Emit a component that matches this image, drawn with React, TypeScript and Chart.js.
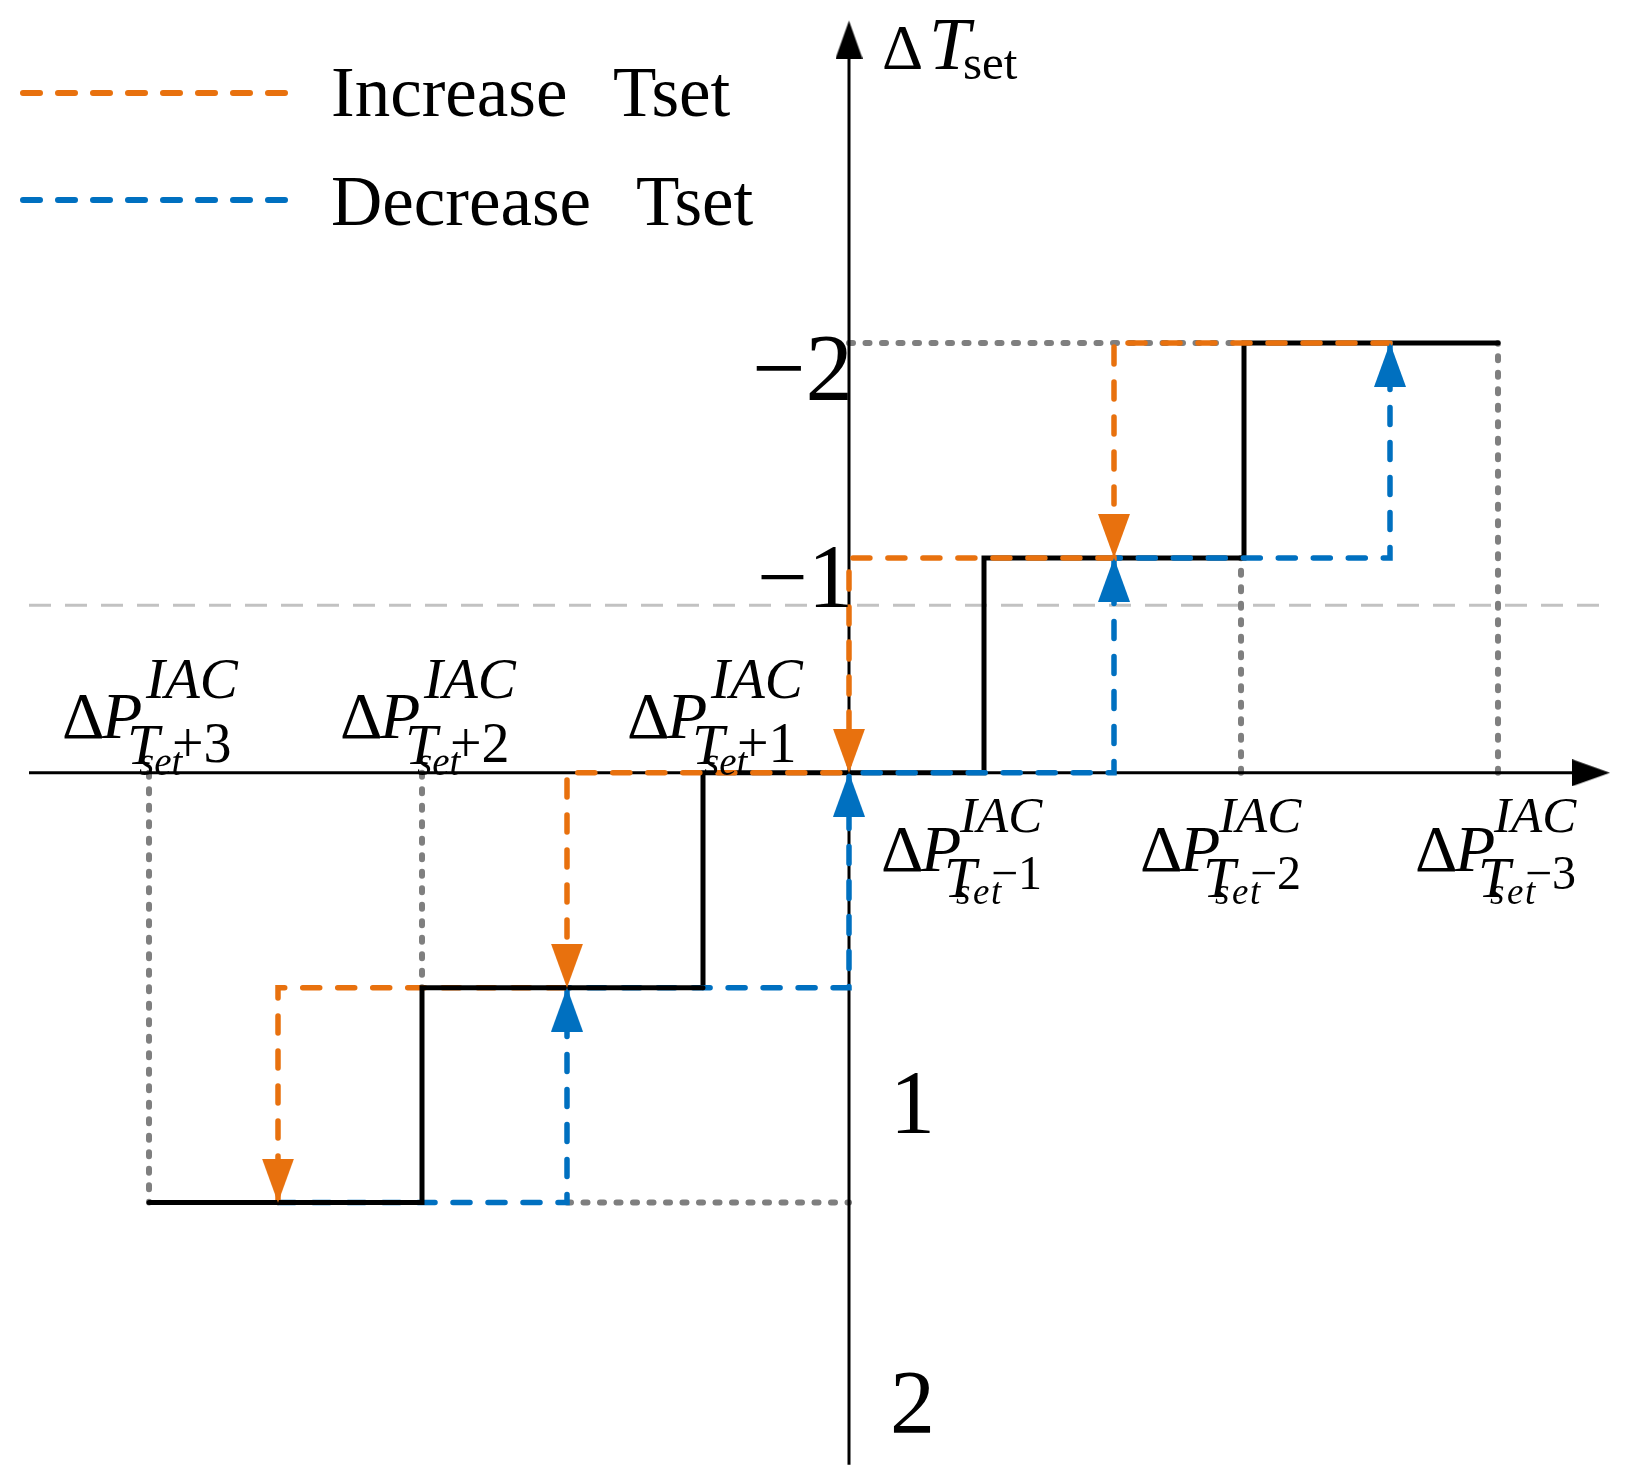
import React, { useEffect, useRef } from "react";
import { Chart, registerables } from "chart.js";

Chart.register(...registerables);

const W = 1629;
const H = 1482;

// ---- data (ΔP^IAC thresholds in arbitrary power units, ΔTset steps) ----
const stepLeft = [
  { x: -7.0, y: 2 }, { x: -4.27, y: 2 }, { x: -4.27, y: 1 }, { x: -1.46, y: 1 },
];
const stepRight = [
  { x: -1.46, y: 1 }, { x: -1.46, y: 0 }, { x: 1.35, y: 0 }, { x: 1.35, y: -1 },
  { x: 3.95, y: -1 }, { x: 3.95, y: -2 }, { x: 6.49, y: -2 },
];
const increasePath = [
  { x: 5.41, y: -2 }, { x: 2.65, y: -2 }, { x: 2.65, y: -1 }, { x: 0, y: -1 },
  { x: 0, y: 0 }, { x: -2.82, y: 0 }, { x: -2.82, y: 1 }, { x: -5.71, y: 1 }, { x: -5.71, y: 2 },
];
const decreasePath = [
  { x: -5.71, y: 2 }, { x: -2.82, y: 2 }, { x: -2.82, y: 1 }, { x: 0, y: 1 },
  { x: 0, y: 0 }, { x: 2.65, y: 0 }, { x: 2.65, y: -1 }, { x: 5.41, y: -1 }, { x: 5.41, y: -2 },
];
const increaseArrows = [{ x: 2.65, y: -1 }, { x: 0, y: 0 }, { x: -2.82, y: 1 }, { x: -5.71, y: 2 }];
const decreaseArrows = [{ x: -2.82, y: 1 }, { x: 0, y: 0 }, { x: 2.65, y: -1 }, { x: 5.41, y: -2 }];
const guideSegments = [
  [{ x: -7.0, y: 0 }, { x: -7.0, y: 2 }],
  [{ x: -4.27, y: 0 }, { x: -4.27, y: 1 }],
  [{ x: 3.92, y: 0 }, { x: 3.92, y: -1 }],
  [{ x: 6.49, y: 0 }, { x: 6.49, y: -2 }],
  [{ x: 0, y: -2 }, { x: 3.95, y: -2 }],
  [{ x: -2.82, y: 2 }, { x: 0, y: 2 }],
];
const thresholdLevel = -0.78;
const xAxisRange = [-8.2, 7.23, 7.61]; // start, arrow base, arrow tip
const yAxisRange = [3.22, -3.33, -3.5]; // bottom, arrow base, arrow tip

const leftLabels = ["+3", "+2", "+1"];
const rightLabels = ["\u22121", "\u22122", "\u22123"];
const tickTexts = ["\u22122", "\u22121", "1", "2"];
const legendTexts = ["Increase  Tset", "Decrease  Tset"];

// ---- layout / styles ----
const ORANGE = "#E8710E";
const BLUE = "#0070C0";
const GRAY = "#7F7F7F";
const LIGHT = "#C2C2C2";
const FONT = '"Liberation Serif", "Times New Roman", serif';

const leftLabelAnchors = [-7.87, -5.09, -2.22];
const leftLabelBase = -0.162;
const rightLabelAnchors = [0.32, 2.91, 5.66];
const rightLabelBase = 0.457;

function makeArrow(w: number, l: number, color: string) {
  const c = document.createElement("canvas");
  c.width = w;
  c.height = 2 * l;
  const g = c.getContext("2d")!;
  g.fillStyle = color;
  g.beginPath();
  g.moveTo(0, 0);
  g.lineTo(w, 0);
  g.lineTo(w / 2, l);
  g.closePath();
  g.fill();
  return c;
}

type Run = { t: string; dx: number; dy: number; size: number; it: boolean };

function drawRuns(ctx: CanvasRenderingContext2D, x0: number, y0: number, runs: Run[]) {
  for (const r of runs) {
    ctx.font = `${r.it ? "italic " : ""}${r.size}px ${FONT}`;
    ctx.fillText(r.t, x0 + r.dx, y0 + r.dy);
  }
}

const textPlugin = {
  id: "texts",
  afterDatasetsDraw(chart: any) {
    const ctx: CanvasRenderingContext2D = chart.ctx;
    const xs = chart.scales.x;
    const ys = chart.scales.y;
    ctx.save();
    ctx.fillStyle = "#000";
    ctx.textAlign = "left";
    ctx.textBaseline = "alphabetic";

    // legend
    const legendColors = [ORANGE, BLUE];
    const legendY = [93, 200];
    const legendBase = [116, 225];
    const secondWordX = [613, 636];
    for (let i = 0; i < 2; i++) {
      ctx.save();
      ctx.strokeStyle = legendColors[i];
      ctx.lineWidth = 6;
      ctx.lineCap = "round";
      ctx.setLineDash([17, 18]);
      ctx.beginPath();
      ctx.moveTo(23, legendY[i]);
      ctx.lineTo(296, legendY[i]);
      ctx.stroke();
      ctx.restore();
      ctx.font = `71px ${FONT}`;
      const words = legendTexts[i].split(/\s+/);
      ctx.fillText(words[0], 331, legendBase[i]);
      ctx.fillText(words[1], secondWordX[i], legendBase[i]);
    }

    // axis title ΔTset
    const ax = xs.getPixelForValue(0);
    drawRuns(ctx, ax + 33, 69, [
      { t: "\u0394", dx: 0, dy: 0, size: 64, it: false },
      { t: "T", dx: 47, dy: 0, size: 74, it: true },
      { t: "set", dx: 81, dy: 10, size: 49, it: false },
    ]);

    // tick labels
    ctx.textAlign = "right";
    ctx.font = `95px ${FONT}`;
    ctx.fillText(tickTexts[0], ax + 4, ys.getPixelForValue(-2) + 57);
    ctx.font = `90px ${FONT}`;
    ctx.fillText(tickTexts[1], ax + 4, ys.getPixelForValue(-1) + 49);
    ctx.textAlign = "left";
    ctx.fillText(tickTexts[2], ax + 41, ys.getPixelForValue(1) + 145);
    ctx.fillText(tickTexts[3], ax + 41, ys.getPixelForValue(2) + 230);

    // ΔP labels
    for (let i = 0; i < 3; i++) {
      const x0 = xs.getPixelForValue(leftLabelAnchors[i]);
      const y0 = ys.getPixelForValue(leftLabelBase);
      drawRuns(ctx, x0, y0, [
        { t: "\u0394", dx: 0, dy: 0, size: 66, it: false },
        { t: "P", dx: 40, dy: 0, size: 66, it: true },
        { t: "IAC", dx: 84, dy: -40, size: 57, it: true },
        { t: "T", dx: 65, dy: 26, size: 58, it: true },
        { t: "set", dx: 77, dy: 37, size: 39, it: true },
        { t: leftLabels[i], dx: 110, dy: 24, size: 56, it: false },
      ]);
    }
    for (let i = 0; i < 3; i++) {
      const x0 = xs.getPixelForValue(rightLabelAnchors[i]);
      const y0 = ys.getPixelForValue(rightLabelBase);
      drawRuns(ctx, x0, y0, [
        { t: "\u0394", dx: 0, dy: 0, size: 66, it: false },
        { t: "P", dx: 40, dy: 0, size: 66, it: true },
        { t: "IAC", dx: 79, dy: -39, size: 51, it: true },
        { t: "T", dx: 63, dy: 26, size: 58, it: true },
        { t: "s", dx: 75, dy: 33, size: 37, it: true },
        { t: "e", dx: 92, dy: 33, size: 37, it: true },
        { t: "t", dx: 110, dy: 33, size: 37, it: true },
        { t: rightLabels[i], dx: 110, dy: 18, size: 48, it: false },
      ]);
    }
    ctx.restore();
  },
};

export default function App() {
  const ref = useRef<HTMLCanvasElement | null>(null);

  useEffect(() => {
    document.body.style.margin = "0";
    const canvas = ref.current!;
    const arrowO = makeArrow(32, 44, ORANGE);
    const arrowB = makeArrow(32, 44, BLUE);
    const arrowK = makeArrow(27, 38, "#000");

    const line = (data: any[], color: string, width: number, order: number, extra: any = {}) => ({
      data,
      showLine: true,
      borderColor: color,
      borderWidth: width,
      pointRadius: 0,
      pointHoverRadius: 0,
      tension: 0,
      order,
      borderJoinStyle: "miter",
      ...extra,
    });

    const datasets: any[] = [
      // threshold dashed line
      line(
        [{ x: xAxisRange[0], y: thresholdLevel }, { x: xAxisRange[2], y: thresholdLevel }],
        LIGHT, 3, 9, { borderDash: [22, 14] }
      ),
      // guides
      ...guideSegments.map((seg) =>
        line(seg, GRAY, 6, 8, { borderDash: [4, 12.5], borderCapStyle: "round" })
      ),
      // axes
      line([{ x: xAxisRange[0], y: 0 }, { x: xAxisRange[1], y: 0 }], "#000", 3, 7),
      line([{ x: 0, y: yAxisRange[0] }, { x: 0, y: yAxisRange[1] }], "#000", 3, 7),
      {
        data: [{ x: xAxisRange[2], y: 0 }],
        showLine: false, pointStyle: arrowK, pointRadius: 8, pointRotation: -90, order: 7,
      },
      {
        data: [{ x: 0, y: yAxisRange[2] }],
        showLine: false, pointStyle: arrowK, pointRadius: 8, pointRotation: 180, order: 7,
      },
      // black step (right part, under dashed)
      line(stepRight, "#000", 5, 5, { borderCapStyle: "round" }),
      // dashed paths
      line(increasePath, ORANGE, 5.5, 3, { borderDash: [17, 18], borderCapStyle: "round" }),
      line(decreasePath, BLUE, 5.5, 3, { borderDash: [17, 18], borderCapStyle: "round" }),
      // black step (left part, over dashed)
      line(stepLeft, "#000", 5, 2, { borderCapStyle: "round" }),
      // arrowheads
      {
        data: increaseArrows, showLine: false, pointStyle: arrowO, pointRadius: 8,
        pointRotation: 0, order: 0,
      },
      {
        data: decreaseArrows, showLine: false, pointStyle: arrowB, pointRadius: 8,
        pointRotation: 180, order: 0,
      },
    ];

    const chart = new Chart(canvas, {
      type: "scatter",
      data: { datasets },
      options: {
        responsive: false,
        maintainAspectRatio: false,
        animation: false,
        devicePixelRatio: 1,
        events: [],
        layout: { padding: 0, autoPadding: false },
        plugins: { legend: { display: false }, tooltip: { enabled: false } },
        scales: {
          x: { type: "linear", min: -8.49, max: 7.8, display: false },
          y: { type: "linear", min: -3.596, max: 3.3, reverse: true, display: false },
        },
      },
      plugins: [textPlugin],
    } as any);
    return () => chart.destroy();
  }, []);

  return (
    <div style={{ position: "absolute", left: 0, top: 0, width: W, height: H, background: "#fff" }}>
      <canvas ref={ref} width={W} height={H} style={{ width: W, height: H, display: "block" }} />
    </div>
  );
}
